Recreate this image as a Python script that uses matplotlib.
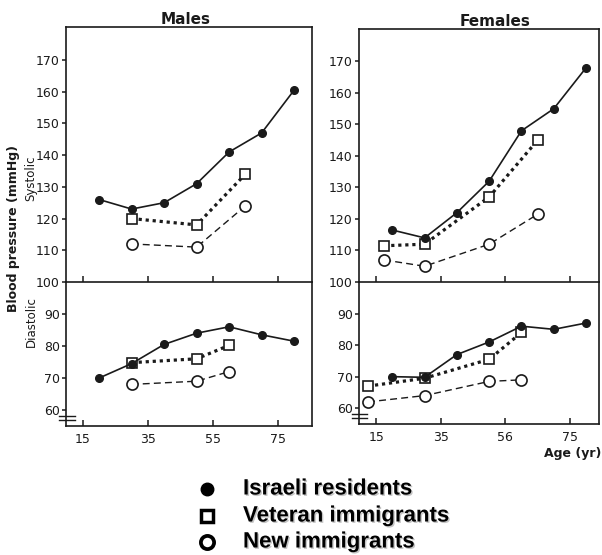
import matplotlib
matplotlib.use("Agg")
import matplotlib.pyplot as plt
from matplotlib.lines import Line2D
import matplotlib.patheffects as pe

# ---------------- data ----------------
ages7 = [20, 30, 40, 50, 60, 70, 80]

m_sys_isr = [126, 123, 125, 131, 141, 147, 160.5]
m_sys_vet_age = [30, 50, 65]
m_sys_vet = [120, 118, 134]
m_sys_new_age = [30, 50, 65]
m_sys_new = [112, 111, 124]

m_dia_isr = [70, 74.5, 80.5, 84, 86, 83.5, 81.5]
m_dia_vet_age = [30, 50, 60]
m_dia_vet = [74.8, 76, 80.2]
m_dia_new_age = [30, 50, 60]
m_dia_new = [68, 69, 72]

f_sys_isr = [116.5, 114, 122, 132, 148, 155, 168]
f_sys_vet_age = [17.5, 30, 50, 65]
f_sys_vet = [111.5, 112, 127, 145]
f_sys_new_age = [17.5, 30, 50, 65]
f_sys_new = [107, 105, 112, 121.5]

f_dia_isr = [70, 69.8, 77, 81, 86, 85, 87]
f_dia_vet_age = [12.5, 30, 50, 60]
f_dia_vet = [67, 69.5, 75.5, 84]
f_dia_new_age = [12.5, 30, 50, 60]
f_dia_new = [62, 64, 68.5, 69]

x_ticks = [15, 35, 55, 75]
x_labels_m = ["15", "35", "55", "75"]
x_labels_f = ["15", "35", "56", "75"]
sys_ticks = [100, 110, 120, 130, 140, 150, 160, 170]
dia_ticks = [60, 70, 80, 90]

legend_labels = ["Israeli residents", "Veteran immigrants", "New immigrants"]

# ---------------- figure ----------------
W, H = 602, 555
fig = plt.figure(figsize=(W / 100, H / 100), dpi=100)

def fx(px):
    return px / W

def fy(py):
    return 1 - py / H

ink = "#1a1a1a"
plt.rcParams["font.family"] = ["DejaVu Sans"]

def make_axes(x0, x1, ytop, ymid, ybot):
    a_top = fig.add_axes([fx(x0), fy(ymid), fx(x1 - x0), fy(ytop) - fy(ymid)])
    a_bot = fig.add_axes([fx(x0), fy(ybot), fx(x1 - x0), fy(ymid) - fy(ybot)])
    a_top.set_facecolor("none")
    a_bot.set_facecolor("none")
    return a_top, a_bot

mL_top, mL_bot = make_axes(66, 312, 27, 282, 426)
fR_top, fR_bot = make_axes(359, 599, 29, 282, 424)

def style(ax, xlim, ylim, yticks, xlabels, bottom):
    ax.set_xlim(*xlim)
    ax.set_ylim(*ylim)
    for s in ax.spines.values():
        s.set_linewidth(1.2)
        s.set_color(ink)
    ax.set_yticks(yticks)
    ax.set_yticklabels([str(v) for v in yticks])
    ax.tick_params(axis="y", direction="out", length=3, width=1.1,
                   labelsize=9, pad=1.5, colors=ink)
    ax.set_xticks(x_ticks)
    if bottom:
        ax.set_xticklabels(xlabels)
        ax.tick_params(axis="x", direction="in", length=4, width=1.1,
                       labelsize=9, pad=5, colors=ink)
        ax.spines["top"].set_visible(False)
    else:
        ax.set_xticklabels([])
        ax.tick_params(axis="x", direction="in", length=4, width=1.1, colors=ink)

def draw(ax, isr, vx, vv, nx, nv):
    ax.plot(nx, nv, color=ink, lw=1.0, ls=(0, (5, 3)), marker="o", ms=8,
            mfc="white", mec=ink, mew=1.2, zorder=3)
    ax.plot(vx, vv, color=ink, lw=2.3, ls=(0, (1, 1.2)), marker="s", ms=7,
            mfc="white", mec=ink, mew=1.2, zorder=4)
    ax.plot(ages7, isr, color=ink, lw=1.2, ls="-", marker="o", ms=5.5,
            mfc=ink, mec=ink, zorder=5)

style(mL_top, (9.8, 85.5), (100, 180.4), sys_ticks, x_labels_m, False)
style(mL_bot, (9.8, 85.5), (55, 100), dia_ticks, x_labels_m, True)
style(fR_top, (9.7, 84), (100, 180.3), sys_ticks, x_labels_f, False)
style(fR_bot, (9.7, 84), (55, 100), dia_ticks, x_labels_f, True)

draw(mL_top, m_sys_isr, m_sys_vet_age, m_sys_vet, m_sys_new_age, m_sys_new)
draw(mL_bot, m_dia_isr, m_dia_vet_age, m_dia_vet, m_dia_new_age, m_dia_new)
draw(fR_top, f_sys_isr, f_sys_vet_age, f_sys_vet, f_sys_new_age, f_sys_new)
draw(fR_bot, f_dia_isr, f_dia_vet_age, f_dia_vet, f_dia_new_age, f_dia_new)

# axis break marks
for ax in (mL_bot, fR_bot):
    for yv in (58.2, 57.0):
        ln = Line2D([-0.03, 0.035], [yv, yv], transform=ax.get_yaxis_transform(),
                    color=ink, lw=1.0, clip_on=False)
        ax.add_line(ln)

# titles and labels
fig.text(fx(186), fy(19), "Males", ha="center", va="center", fontsize=11,
         color=ink, fontweight="bold")
fig.text(fx(495), fy(21), "Females", ha="center", va="center", fontsize=11,
         color=ink, fontweight="bold")
fig.text(fx(14), fy(228), "Blood pressure (mmHg)", rotation=90, ha="center",
         va="center", fontsize=9, color=ink, fontweight="bold")
fig.text(fx(31), fy(178), "Systolic", rotation=90, ha="center", va="center",
         fontsize=8.5, color=ink)
fig.text(fx(31), fy(322), "Diastolic", rotation=90, ha="center", va="center",
         fontsize=8.5, color=ink)
fig.text(fx(601), fy(453), "Age (yr)", ha="right", va="center", fontsize=9,
         color=ink, fontweight="bold")

# legend
shadow = [pe.withSimplePatchShadow(offset=(1.0, -1.0), shadow_rgbFace="gray", alpha=0.45)]
leg_y = [489, 516, 542]
leg_markers = [dict(marker="o", ms=9, mfc="black", mec="black", mew=1),
               dict(marker="s", ms=9, mfc="white", mec="black", mew=2.5),
               dict(marker="o", ms=9.5, mfc="white", mec="black", mew=2.7)]
for yy, lab, mk in zip(leg_y, legend_labels, leg_markers):
    fig.add_artist(Line2D([fx(207)], [fy(yy)], transform=fig.transFigure, ls="none", **mk))
    fig.text(fx(243), fy(yy), lab, ha="left", va="center", fontsize=16,
             family=["Liberation Sans", "DejaVu Sans"], fontweight="bold",
             color="black", path_effects=shadow)

fig.savefig("out.png", dpi=100)
